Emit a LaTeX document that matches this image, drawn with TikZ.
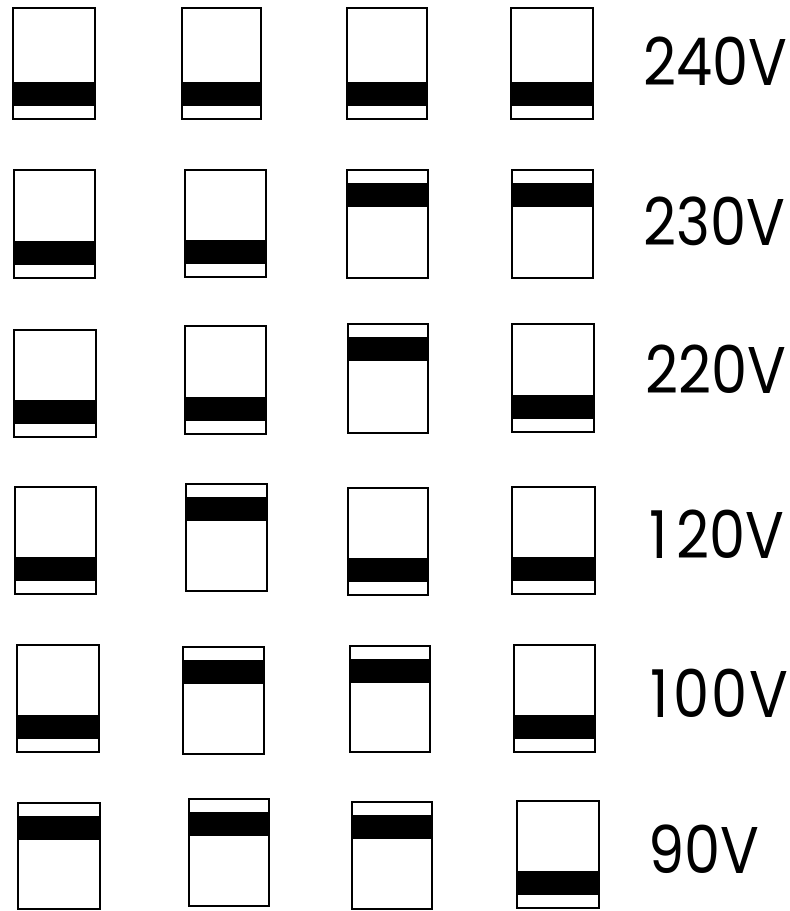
\documentclass[tikz,border=0pt]{standalone}
\usepackage{fontspec}
\setmainfont{Poppins}
\newfontfamily\voltfont{Poppins}[FakeStretch=0.87]
\tikzset{
  swframe/.style={draw=black,line width=2.2pt},
  swpaper/.style={fill=white},
  band/.style={fill=black},
  volt/.style={font=\voltfont\fontsize{66}{66}\selectfont, anchor=base west, inner sep=0pt}
}
% switch with black band at the bottom: x, y (top), w, h
\newcommand\swBot[4]{%
  \fill[swpaper] (#1,#2) rectangle ++(#3,#4);
  \fill[band] (#1,#2+#4-37) rectangle ++(#3,24);
  \draw[swframe] (#1,#2) rectangle ++(#3,#4);
}
% switch with black band at the top
\newcommand\swTop[4]{%
  \fill[swpaper] (#1,#2) rectangle ++(#3,#4);
  \fill[band] (#1,#2+13) rectangle ++(#3,24);
  \draw[swframe] (#1,#2) rectangle ++(#3,#4);
}
\begin{document}
\begin{tikzpicture}[x=1pt,y=-1pt]
\useasboundingbox[fill=white] (0,0) rectangle (790,911);
% 240V
\swBot{13}{8}{82}{111}
\swBot{182}{8}{79}{111}
\swBot{347}{8}{80}{111}
\swBot{511}{8}{82}{111}
\node[volt] (v240) at (643,85) {240V};
% 230V
\swBot{14}{170}{81}{108}
\swBot{185}{170}{81}{107}
\swTop{347}{170}{81}{108}
\swTop{512}{170}{81}{108}
\node[volt] (v230) at (643,245) {230V};
% 220V
\swBot{14}{330}{82}{107}
\swBot{185}{326}{81}{108}
\swTop{348}{324}{80}{109}
\swBot{512}{324}{82}{108}
\node[volt] (v220) at (645,393) {220V};
% 120V
\swBot{15}{487}{81}{107}
\swTop{186}{484}{81}{107}
\swBot{348}{488}{80}{107}
\swBot{512}{487}{83}{107}
\node[volt] (v120) at (649,558) {1\kern9pt 20V};
% 100V
\swBot{17}{645}{82}{107}
\swTop{183}{647}{81}{107}
\swTop{350}{646}{80}{106}
\swBot{514}{645}{81}{107}
\node[volt] (v100) at (650,717) {1\kern5pt 0\kern2pt 0\kern2pt V};
% 90V
\swTop{18}{803}{82}{106}
\swTop{189}{799}{80}{107}
\swTop{352}{802}{80}{107}
\swBot{517}{801}{82}{107}
\node[volt] (v90) at (648,873) {90V};
\end{tikzpicture}
\end{document}
